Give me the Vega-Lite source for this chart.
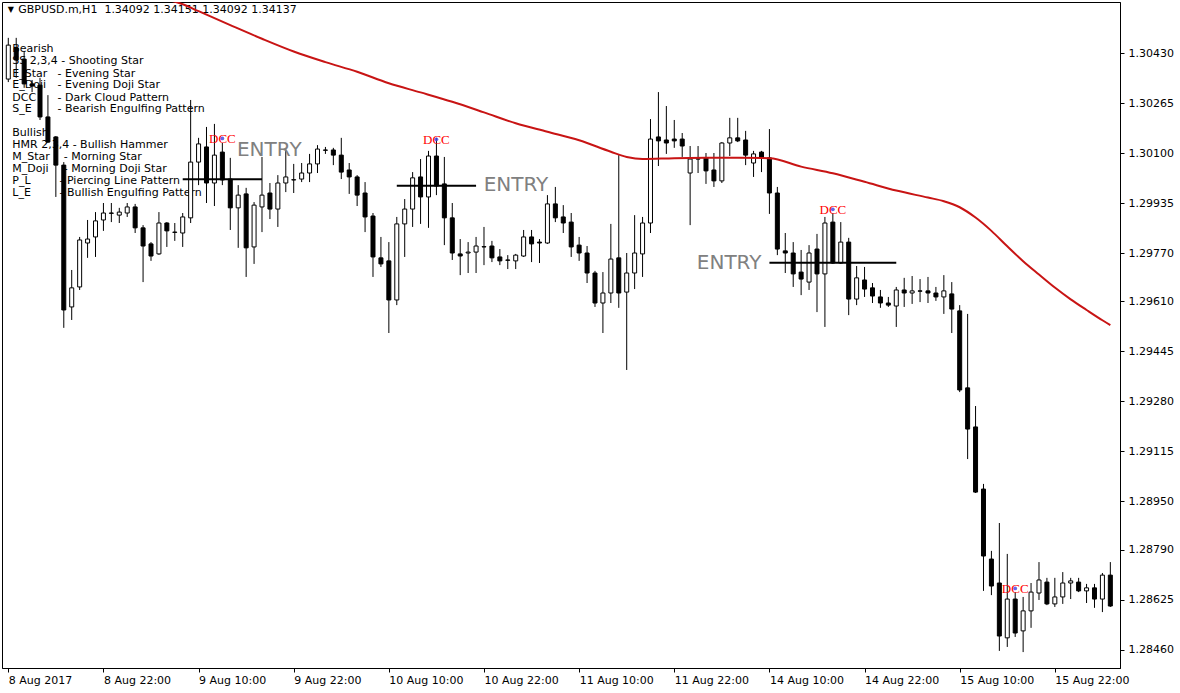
{
"$schema": "https://vega.github.io/schema/vega-lite/v6.json",
"width": 1118, "height": 666,
"autosize": "none",
"padding": {"left": 2, "top": 2, "right": 60, "bottom": 25},
"background": "white",
"config": {"view": {"stroke": "black", "strokeWidth": 1}, "axis": {"grid": false, "title": null, "labelFont": "DejaVu Sans", "labelFontSize": 11, "labelColor": "black", "tickColor": "black", "domainColor": "black"}},
"datasets": {
"candles": [
{"i":0,"o":1.30344,"h":1.30480,"l":1.30334,"c":1.30456},
{"i":1,"o":1.30447,"h":1.30480,"l":1.30348,"c":1.30407},
{"i":2,"o":1.30410,"h":1.30433,"l":1.30315,"c":1.30328},
{"i":3,"o":1.30328,"h":1.30341,"l":1.30301,"c":1.30321},
{"i":4,"o":1.30324,"h":1.30348,"l":1.30209,"c":1.30219},
{"i":5,"o":1.30219,"h":1.30291,"l":1.30133,"c":1.30136},
{"i":6,"o":1.30153,"h":1.30156,"l":1.29955,"c":1.30060},
{"i":7,"o":1.30060,"h":1.30070,"l":1.29523,"c":1.29582},
{"i":8,"o":1.29592,"h":1.29714,"l":1.29549,"c":1.29655},
{"i":9,"o":1.29658,"h":1.29823,"l":1.29648,"c":1.29813},
{"i":10,"o":1.29803,"h":1.29879,"l":1.29754,"c":1.29816},
{"i":11,"o":1.29823,"h":1.29905,"l":1.29757,"c":1.29876},
{"i":12,"o":1.29879,"h":1.29935,"l":1.29843,"c":1.29902},
{"i":13,"o":1.29902,"h":1.29935,"l":1.29872,"c":1.29901},
{"i":14,"o":1.29895,"h":1.29919,"l":1.29869,"c":1.29905},
{"i":15,"o":1.29902,"h":1.29935,"l":1.29889,"c":1.29922},
{"i":16,"o":1.29922,"h":1.29932,"l":1.29836,"c":1.29853},
{"i":17,"o":1.29853,"h":1.29862,"l":1.29674,"c":1.29793},
{"i":18,"o":1.29800,"h":1.29806,"l":1.29744,"c":1.29760},
{"i":19,"o":1.29767,"h":1.29905,"l":1.29764,"c":1.29869},
{"i":20,"o":1.29869,"h":1.29872,"l":1.29790,"c":1.29843},
{"i":21,"o":1.29839,"h":1.29869,"l":1.29810,"c":1.29838},
{"i":22,"o":1.29836,"h":1.29902,"l":1.29790,"c":1.29889},
{"i":23,"o":1.29886,"h":1.30275,"l":1.29869,"c":1.30070},
{"i":24,"o":1.30070,"h":1.30150,"l":1.29994,"c":1.30130},
{"i":25,"o":1.30120,"h":1.30186,"l":1.29935,"c":1.30001},
{"i":26,"o":1.30001,"h":1.30196,"l":1.29925,"c":1.30093},
{"i":27,"o":1.30103,"h":1.30133,"l":1.29994,"c":1.30011},
{"i":28,"o":1.30014,"h":1.30084,"l":1.29846,"c":1.29919},
{"i":29,"o":1.29919,"h":1.29994,"l":1.29787,"c":1.29961},
{"i":30,"o":1.29965,"h":1.29985,"l":1.29691,"c":1.29787},
{"i":31,"o":1.29790,"h":1.29938,"l":1.29734,"c":1.29928},
{"i":32,"o":1.29922,"h":1.30087,"l":1.29839,"c":1.29961},
{"i":33,"o":1.29968,"h":1.30001,"l":1.29882,"c":1.29915},
{"i":34,"o":1.29915,"h":1.30027,"l":1.29856,"c":1.30001},
{"i":35,"o":1.30001,"h":1.30113,"l":1.29971,"c":1.30021},
{"i":36,"o":1.30011,"h":1.30064,"l":1.29968,"c":1.30012},
{"i":37,"o":1.30014,"h":1.30067,"l":1.30004,"c":1.30034},
{"i":38,"o":1.30034,"h":1.30097,"l":1.30004,"c":1.30064},
{"i":39,"o":1.30064,"h":1.30126,"l":1.30034,"c":1.30113},
{"i":40,"o":1.30110,"h":1.30120,"l":1.30097,"c":1.30109},
{"i":41,"o":1.30110,"h":1.30117,"l":1.30060,"c":1.30093},
{"i":42,"o":1.30093,"h":1.30150,"l":1.30014,"c":1.30037},
{"i":43,"o":1.30044,"h":1.30067,"l":1.29965,"c":1.30021},
{"i":44,"o":1.30021,"h":1.30027,"l":1.29925,"c":1.29961},
{"i":45,"o":1.29968,"h":1.30004,"l":1.29839,"c":1.29889},
{"i":46,"o":1.29892,"h":1.29902,"l":1.29691,"c":1.29757},
{"i":47,"o":1.29754,"h":1.29823,"l":1.29724,"c":1.29734},
{"i":48,"o":1.29744,"h":1.29806,"l":1.29506,"c":1.29615},
{"i":49,"o":1.29615,"h":1.29889,"l":1.29598,"c":1.29866},
{"i":50,"o":1.29866,"h":1.29948,"l":1.29757,"c":1.29915},
{"i":51,"o":1.29915,"h":1.30037,"l":1.29856,"c":1.30018},
{"i":52,"o":1.30021,"h":1.30080,"l":1.29866,"c":1.29955},
{"i":53,"o":1.29955,"h":1.30107,"l":1.29853,"c":1.30090},
{"i":54,"o":1.30090,"h":1.30150,"l":1.29961,"c":1.29991},
{"i":55,"o":1.29998,"h":1.30087,"l":1.29796,"c":1.29886},
{"i":56,"o":1.29886,"h":1.29935,"l":1.29747,"c":1.29770},
{"i":57,"o":1.29767,"h":1.29816,"l":1.29697,"c":1.29760},
{"i":58,"o":1.29770,"h":1.29806,"l":1.29704,"c":1.29773},
{"i":59,"o":1.29773,"h":1.29823,"l":1.29704,"c":1.29793},
{"i":60,"o":1.29790,"h":1.29856,"l":1.29730,"c":1.29791},
{"i":61,"o":1.29793,"h":1.29810,"l":1.29740,"c":1.29754},
{"i":62,"o":1.29757,"h":1.29783,"l":1.29730,"c":1.29744},
{"i":63,"o":1.29747,"h":1.29763,"l":1.29717,"c":1.29746},
{"i":64,"o":1.29744,"h":1.29767,"l":1.29717,"c":1.29763},
{"i":65,"o":1.29760,"h":1.29846,"l":1.29757,"c":1.29823},
{"i":66,"o":1.29823,"h":1.29846,"l":1.29740,"c":1.29800},
{"i":67,"o":1.29806,"h":1.29816,"l":1.29737,"c":1.29803},
{"i":68,"o":1.29803,"h":1.29961,"l":1.29800,"c":1.29932},
{"i":69,"o":1.29932,"h":1.29988,"l":1.29872,"c":1.29886},
{"i":70,"o":1.29889,"h":1.29928,"l":1.29836,"c":1.29869},
{"i":71,"o":1.29872,"h":1.29902,"l":1.29757,"c":1.29790},
{"i":72,"o":1.29796,"h":1.29823,"l":1.29744,"c":1.29770},
{"i":73,"o":1.29770,"h":1.29793,"l":1.29671,"c":1.29704},
{"i":74,"o":1.29704,"h":1.29711,"l":1.29592,"c":1.29605},
{"i":75,"o":1.29605,"h":1.29707,"l":1.29506,"c":1.29638},
{"i":76,"o":1.29638,"h":1.29866,"l":1.29605,"c":1.29750},
{"i":77,"o":1.29754,"h":1.30093,"l":1.29589,"c":1.29638},
{"i":78,"o":1.29641,"h":1.29770,"l":1.29384,"c":1.29704},
{"i":79,"o":1.29704,"h":1.29895,"l":1.29651,"c":1.29770},
{"i":80,"o":1.29767,"h":1.29889,"l":1.29691,"c":1.29869},
{"i":81,"o":1.29869,"h":1.30212,"l":1.29836,"c":1.30146},
{"i":82,"o":1.30153,"h":1.30301,"l":1.30057,"c":1.30140},
{"i":83,"o":1.30143,"h":1.30255,"l":1.30097,"c":1.30133},
{"i":84,"o":1.30146,"h":1.30209,"l":1.30117,"c":1.30140},
{"i":85,"o":1.30146,"h":1.30166,"l":1.30087,"c":1.30123},
{"i":86,"o":1.30034,"h":1.30123,"l":1.29862,"c":1.30080},
{"i":87,"o":1.30080,"h":1.30123,"l":1.30034,"c":1.30081},
{"i":88,"o":1.30084,"h":1.30100,"l":1.29998,"c":1.30041},
{"i":89,"o":1.30044,"h":1.30100,"l":1.29988,"c":1.30008},
{"i":90,"o":1.30008,"h":1.30136,"l":1.30001,"c":1.30133},
{"i":91,"o":1.30133,"h":1.30216,"l":1.30090,"c":1.30150},
{"i":92,"o":1.30150,"h":1.30216,"l":1.30136,"c":1.30140},
{"i":93,"o":1.30143,"h":1.30173,"l":1.30060,"c":1.30093},
{"i":94,"o":1.30067,"h":1.30107,"l":1.30021,"c":1.30097},
{"i":95,"o":1.30103,"h":1.30107,"l":1.30037,"c":1.30084},
{"i":96,"o":1.30084,"h":1.30179,"l":1.29899,"c":1.29968},
{"i":97,"o":1.29968,"h":1.29988,"l":1.29763,"c":1.29783},
{"i":98,"o":1.29777,"h":1.29836,"l":1.29704,"c":1.29770},
{"i":99,"o":1.29770,"h":1.29806,"l":1.29658,"c":1.29701},
{"i":100,"o":1.29707,"h":1.29780,"l":1.29631,"c":1.29684},
{"i":101,"o":1.29674,"h":1.29796,"l":1.29648,"c":1.29770},
{"i":102,"o":1.29783,"h":1.29833,"l":1.29575,"c":1.29701},
{"i":103,"o":1.29701,"h":1.29889,"l":1.29526,"c":1.29869},
{"i":104,"o":1.29872,"h":1.29902,"l":1.29734,"c":1.29737},
{"i":105,"o":1.29737,"h":1.29872,"l":1.29734,"c":1.29806},
{"i":106,"o":1.29806,"h":1.29820,"l":1.29565,"c":1.29618},
{"i":107,"o":1.29618,"h":1.29727,"l":1.29598,"c":1.29688},
{"i":108,"o":1.29681,"h":1.29724,"l":1.29625,"c":1.29651},
{"i":109,"o":1.29655,"h":1.29671,"l":1.29605,"c":1.29628},
{"i":110,"o":1.29625,"h":1.29648,"l":1.29589,"c":1.29605},
{"i":111,"o":1.29605,"h":1.29625,"l":1.29592,"c":1.29598},
{"i":112,"o":1.29595,"h":1.29658,"l":1.29526,"c":1.29648},
{"i":113,"o":1.29648,"h":1.29688,"l":1.29592,"c":1.29638},
{"i":114,"o":1.29638,"h":1.29694,"l":1.29602,"c":1.29645},
{"i":115,"o":1.29645,"h":1.29684,"l":1.29608,"c":1.29644},
{"i":116,"o":1.29645,"h":1.29691,"l":1.29605,"c":1.29638},
{"i":117,"o":1.29638,"h":1.29658,"l":1.29612,"c":1.29625},
{"i":118,"o":1.29625,"h":1.29697,"l":1.29569,"c":1.29645},
{"i":119,"o":1.29635,"h":1.29674,"l":1.29506,"c":1.29585},
{"i":120,"o":1.29579,"h":1.29598,"l":1.29311,"c":1.29318},
{"i":121,"o":1.29325,"h":1.29569,"l":1.29090,"c":1.29189},
{"i":122,"o":1.29196,"h":1.29265,"l":1.28978,"c":1.28981},
{"i":123,"o":1.28991,"h":1.29008,"l":1.28655,"c":1.28770},
{"i":124,"o":1.28760,"h":1.28787,"l":1.28641,"c":1.28671},
{"i":125,"o":1.28681,"h":1.28879,"l":1.28457,"c":1.28506},
{"i":126,"o":1.28500,"h":1.28777,"l":1.28470,"c":1.28628},
{"i":127,"o":1.28628,"h":1.28651,"l":1.28503,"c":1.28516},
{"i":128,"o":1.28523,"h":1.28635,"l":1.28453,"c":1.28589},
{"i":129,"o":1.28589,"h":1.28681,"l":1.28533,"c":1.28651},
{"i":130,"o":1.28648,"h":1.28750,"l":1.28625,"c":1.28691},
{"i":131,"o":1.28684,"h":1.28698,"l":1.28608,"c":1.28612},
{"i":132,"o":1.28612,"h":1.28698,"l":1.28602,"c":1.28635},
{"i":133,"o":1.28635,"h":1.28717,"l":1.28612,"c":1.28681},
{"i":134,"o":1.28681,"h":1.28698,"l":1.28628,"c":1.28688},
{"i":135,"o":1.28684,"h":1.28698,"l":1.28651,"c":1.28655},
{"i":136,"o":1.28655,"h":1.28678,"l":1.28615,"c":1.28665},
{"i":137,"o":1.28665,"h":1.28678,"l":1.28599,"c":1.28628},
{"i":138,"o":1.28628,"h":1.28714,"l":1.28585,"c":1.28707},
{"i":139,"o":1.28707,"h":1.28750,"l":1.28602,"c":1.28605}
],
"ma": [
{"i":18,"v":1.30640},{"i":20,"v":1.30608},{"i":22,"v":1.30591},{"i":24,"v":1.30568},{"i":28,"v":1.30522},{"i":32,"v":1.30477},{"i":36,"v":1.30435},{"i":40,"v":1.30400},{"i":44,"v":1.30368},{"i":48,"v":1.30330},{"i":52,"v":1.30300},{"i":56,"v":1.30269},{"i":60,"v":1.30234},{"i":64,"v":1.30198},{"i":68,"v":1.30170},{"i":72,"v":1.30142},{"i":76,"v":1.30104},{"i":78,"v":1.30087},{"i":80,"v":1.30080},{"i":84,"v":1.30083},{"i":88,"v":1.30084},{"i":92,"v":1.30084},{"i":96,"v":1.30083},{"i":100,"v":1.30055},{"i":104,"v":1.30033},{"i":108,"v":1.30005},{"i":112,"v":1.29976},{"i":116,"v":1.29953},{"i":118,"v":1.29941},{"i":120,"v":1.29921},{"i":122,"v":1.29887},{"i":124,"v":1.29843},{"i":126,"v":1.29792},{"i":128,"v":1.29743},{"i":130,"v":1.29699},{"i":132,"v":1.29656},{"i":134,"v":1.29617},{"i":136,"v":1.29582},{"i":138,"v":1.29548},{"i":139,"v":1.29532}
],
"legend": [
{"i":0.5,"p":1.30442,"t":"Bearish"},
{"i":0.5,"p":1.30402,"t":"SS 2,3,4 - Shooting Star"},
{"i":0.5,"p":1.30362,"t":"E_Star"},
{"i":6.21,"p":1.30362,"t":"- Evening Star"},
{"i":0.5,"p":1.30323,"t":"E_Doji"},
{"i":6.21,"p":1.30323,"t":"- Evening Doji Star"},
{"i":0.5,"p":1.30283,"t":"DCC"},
{"i":6.21,"p":1.30283,"t":"- Dark Cloud Pattern"},
{"i":0.5,"p":1.30244,"t":"S_E"},
{"i":6.21,"p":1.30244,"t":"- Bearish Engulfing Pattern"},
{"i":0.5,"p":1.30166,"t":"Bullish"},
{"i":0.5,"p":1.30126,"t":"HMR 2,3,4 - Bullish Hammer"},
{"i":0.5,"p":1.30087,"t":"M_Star"},
{"i":7.0,"p":1.30087,"t":"- Morning Star"},
{"i":0.5,"p":1.30047,"t":"M_Doji"},
{"i":7.0,"p":1.30047,"t":"- Morning Doji Star"},
{"i":0.5,"p":1.30008,"t":"P_L"},
{"i":6.46,"p":1.30008,"t":"- Piercing Line Pattern"},
{"i":0.5,"p":1.29968,"t":"L_E"},
{"i":6.46,"p":1.29968,"t":"- Bullish Engulfing Pattern"},
{"i":1.25,"p":1.30572,"t":"GBPUSD.m,H1\u00a0\u00a01.34092 1.34151 1.34092 1.34137"}
],
"tri": [{"i":0.31,"p":1.30572,"t":"▼"}],
"lines": [{"i1":22,"i2":32,"p":1.30013},{"i1":49,"i2":59,"p":1.29992},{"i1":96,"i2":112,"p":1.29738}],
"entry": [{"i":28.84,"p":1.30110,"t":"ENTRY"},{"i":59.96,"p":1.29994,"t":"ENTRY"},{"i":86.84,"p":1.29737,"t":"ENTRY"}],
"dcc": [{"i":27,"p":1.30133,"t":"DCC"},{"i":54,"p":1.30130,"t":"DCC"},{"i":104,"p":1.29899,"t":"DCC"},{"i":127,"p":1.28648,"t":"DCC"}],
"dots": [{"i":27,"p":1.30148},{"i":54,"p":1.30145},{"i":104,"p":1.29914},{"i":127,"p":1.28663}]
},
"layer": [
{"data": {"name": "legend"}, "mark": {"type": "text", "align": "left", "baseline": "middle", "font": "DejaVu Sans", "fontSize": 11, "fill": "black"},
 "encoding": {"x": {"field": "i", "type": "quantitative", "scale": {"domain": [-0.1625, 139.5875], "nice": false, "zero": false},
   "axis": {"orient": "bottom", "title": null, "values": [0,12,24,36,48,60,72,84,96,108,120,132], "labelExpr": "['8 Aug 2017','8 Aug 22:00','9 Aug 10:00','9 Aug 22:00','10 Aug 10:00','10 Aug 22:00','11 Aug 10:00','11 Aug 22:00','14 Aug 10:00','14 Aug 22:00','15 Aug 10:00','15 Aug 22:00'][round(datum.value/12)]", "labelAlign": "left", "labelBaseline": "top", "tickSize": 4, "labelPadding": 2, "labelFlush": false, "labelOverlap": false, "grid": false}},
  "y": {"field": "p", "type": "quantitative", "scale": {"domain": [1.284005, 1.305983], "nice": false, "zero": false},
   "axis": {"orient": "right", "title": null, "values": [1.2846,1.28625,1.2879,1.2895,1.29115,1.2928,1.29445,1.2961,1.2977,1.29935,1.301,1.30265,1.3043], "format": ".5f", "tickSize": 4, "labelPadding": 4, "labelFlush": false, "labelOverlap": false, "grid": false}},
  "text": {"field": "t"}}},
{"data": {"name": "tri"}, "mark": {"type": "text", "align": "center", "baseline": "middle", "font": "DejaVu Sans", "fontSize": 8, "fill": "black"},
 "encoding": {"x": {"field": "i", "type": "quantitative"},
  "y": {"field": "p", "type": "quantitative"}, "text": {"field": "t"}}},
{"data": {"name": "candles"}, "mark": {"type": "rule", "color": "black", "strokeWidth": 1},
 "encoding": {"x": {"field": "i", "type": "quantitative"},
  "y": {"field": "l", "type": "quantitative"},
  "y2": {"field": "h"}}},
{"data": {"name": "candles"}, "mark": {"type": "bar", "size": 4, "stroke": "black", "strokeWidth": 1},
 "encoding": {"x": {"field": "i", "type": "quantitative"},
  "y": {"field": "o", "type": "quantitative"},
  "y2": {"field": "c"},
  "fill": {"condition": {"test": "datum.c >= datum.o", "value": "white"}, "value": "black"}}},
{"data": {"name": "ma"}, "mark": {"type": "line", "color": "#c81414", "strokeWidth": 2, "clip": true, "interpolate": "monotone"},
 "encoding": {"x": {"field": "i", "type": "quantitative"},
  "y": {"field": "v", "type": "quantitative"}}},
{"data": {"name": "lines"}, "mark": {"type": "rule", "color": "black", "strokeWidth": 2},
 "encoding": {"x": {"field": "i1", "type": "quantitative"},
  "x2": {"field": "i2"},
  "y": {"field": "p", "type": "quantitative"}}},
{"data": {"name": "entry"}, "mark": {"type": "text", "align": "left", "baseline": "middle", "font": "DejaVu Sans", "fontSize": 20, "fill": "#808080"},
 "encoding": {"x": {"field": "i", "type": "quantitative"},
  "y": {"field": "p", "type": "quantitative"}, "text": {"field": "t"}}},
{"data": {"name": "dcc"}, "mark": {"type": "text", "align": "center", "baseline": "alphabetic", "font": "Liberation Serif", "fontSize": 13, "fill": "#ff0000"},
 "encoding": {"x": {"field": "i", "type": "quantitative"},
  "y": {"field": "p", "type": "quantitative"}, "text": {"field": "t"}}},
{"data": {"name": "dots"}, "mark": {"type": "point", "filled": true, "shape": "circle", "size": 14, "color": "#4a4ae0", "opacity": 0.85},
 "encoding": {"x": {"field": "i", "type": "quantitative"},
  "y": {"field": "p", "type": "quantitative"}}}
]
}
